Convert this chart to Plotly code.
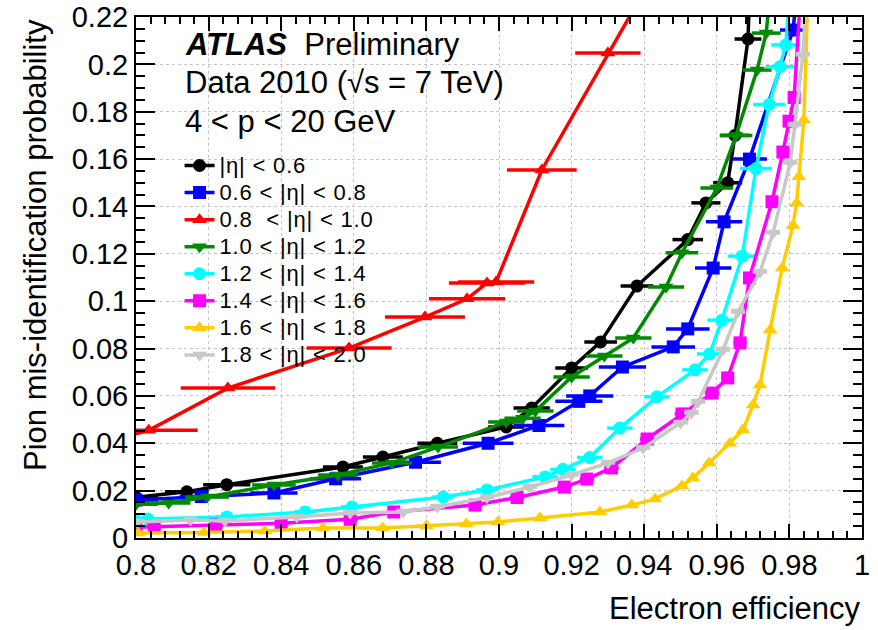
import plotly.graph_objects as go

# ---------------- data ----------------
labels = ["|η| < 0.6", "0.6 < |η| < 0.8", "0.8  < |η| < 1.0", "1.0 < |η| < 1.2",
          "1.2 < |η| < 1.4", "1.4 < |η| < 1.6", "1.6 < |η| < 1.8", "1.8 < |η| < 2.0"]
colors = ["#000000", "#0000ff", "#ff0000", "#008a00", "#00ffff", "#ff00ff", "#ffcc00", "#c8c8c8"]
symbols = ["circle", "square", "triangle-up", "triangle-down", "circle", "square", "triangle-up", "triangle-down"]

eff_eta00 = [0.800, 0.814, 0.825, 0.857, 0.868, 0.883, 0.902, 0.909, 0.920, 0.928, 0.938, 0.952, 0.957, 0.963, 0.965, 0.9686, 0.9705]
mis_eta00 = [0.0172, 0.0195, 0.0225, 0.0300, 0.0342, 0.0400, 0.0469, 0.0549, 0.0718, 0.0828, 0.1064, 0.1260, 0.1415, 0.1500, 0.1700, 0.2107, 0.300]
err_eta00 = [0.006, 0.006, 0.0065, 0.0055, 0.0055, 0.0055, 0.005, 0.005, 0.0045, 0.0045, 0.0045, 0.0042, 0.004, 0.004, 0.004, 0.0037, 0.0]

eff_eta06 = [0.800, 0.818, 0.838, 0.855, 0.877, 0.897, 0.911, 0.922, 0.925, 0.934, 0.948, 0.952, 0.959, 0.962, 0.969, 0.981, 0.984]
mis_eta06 = [0.0160, 0.0175, 0.0190, 0.0250, 0.0320, 0.0400, 0.0475, 0.0577, 0.0600, 0.0722, 0.0807, 0.0883, 0.1140, 0.1335, 0.1600, 0.2145, 0.260]
err_eta06 = [0.006, 0.006, 0.0065, 0.007, 0.007, 0.007, 0.007, 0.0065, 0.0065, 0.0065, 0.006, 0.006, 0.005, 0.005, 0.0048, 0.0036, 0.0]

eff_eta08 = [0.795, 0.8035, 0.8253, 0.8587, 0.8796, 0.8912, 0.8967, 0.8992, 0.9118, 0.9300, 0.9400]
mis_eta08 = [0.0420, 0.0455, 0.0633, 0.0802, 0.0933, 0.1010, 0.1077, 0.1081, 0.1554, 0.2048, 0.2310]
err_eta08 = [0.0, 0.0135, 0.013, 0.0117, 0.011, 0.0105, 0.0105, 0.0105, 0.0096, 0.009, 0.0]

eff_eta10 = [0.800, 0.809, 0.8196, 0.838, 0.8557, 0.8705, 0.8832, 0.902, 0.9065, 0.910, 0.920, 0.929, 0.937, 0.946, 0.9504, 0.960, 0.9653, 0.9711, 0.9736, 0.976]
mis_eta10 = [0.0142, 0.0148, 0.0173, 0.0224, 0.0266, 0.0317, 0.0384, 0.0490, 0.0506, 0.0536, 0.0680, 0.0769, 0.0845, 0.1060, 0.1204, 0.1478, 0.1700, 0.1976, 0.2132, 0.250]
err_eta10 = [0.006, 0.006, 0.006, 0.006, 0.0055, 0.0055, 0.0055, 0.005, 0.005, 0.005, 0.005, 0.005, 0.005, 0.005, 0.0045, 0.0045, 0.0045, 0.004, 0.004, 0.0]

eff_eta12 = [0.800, 0.8033, 0.825, 0.8466, 0.8595, 0.8846, 0.8967, 0.9127, 0.9176, 0.925, 0.9333, 0.9435, 0.954, 0.958, 0.9614, 0.967, 0.9708, 0.9744, 0.9774, 0.979, 0.981]
mis_eta12 = [0.0075, 0.0080, 0.0089, 0.0110, 0.0131, 0.0173, 0.0203, 0.0258, 0.0290, 0.0340, 0.0464, 0.0596, 0.0710, 0.0777, 0.0920, 0.1190, 0.1560, 0.1830, 0.1990, 0.2082, 0.250]
err_eta12 = [0.003, 0.003, 0.003, 0.003, 0.003, 0.003, 0.003, 0.0035, 0.0035, 0.0035, 0.0035, 0.0035, 0.0035, 0.0035, 0.004, 0.004, 0.0044, 0.0044, 0.004, 0.004, 0.0]

eff_eta14 = [0.800, 0.805, 0.822, 0.840, 0.859, 0.871, 0.8934, 0.905, 0.918, 0.9242, 0.931, 0.9408, 0.9504, 0.9587, 0.963, 0.9664, 0.969, 0.9752, 0.9782, 0.9799, 0.9813, 0.9835]
mis_eta14 = [0.0045, 0.0048, 0.0055, 0.0062, 0.0079, 0.0110, 0.0139, 0.0171, 0.0215, 0.0249, 0.0296, 0.0418, 0.0524, 0.0612, 0.0676, 0.0824, 0.1098, 0.1420, 0.1630, 0.1760, 0.1860, 0.240]
err_eta14 = [0.002, 0.002, 0.002, 0.002, 0.002, 0.002, 0.002, 0.002, 0.002, 0.002, 0.002, 0.002, 0.002, 0.002, 0.0018, 0.0018, 0.0018, 0.0016, 0.0016, 0.0016, 0.0016, 0.0]

eff_eta16 = [0.8006, 0.8187, 0.8355, 0.8515, 0.868, 0.880, 0.891, 0.8997, 0.9113, 0.9278, 0.9366, 0.943, 0.9504, 0.9534, 0.9579, 0.9636, 0.9672, 0.970, 0.9719, 0.9747, 0.978, 0.981, 0.982, 0.9826, 0.984, 0.9855]
mis_eta16 = [0.0021, 0.0023, 0.0030, 0.0042, 0.0042, 0.0051, 0.0059, 0.0068, 0.0084, 0.0110, 0.0139, 0.0165, 0.0220, 0.0253, 0.0317, 0.0400, 0.0456, 0.0562, 0.0646, 0.0878, 0.1140, 0.1320, 0.1415, 0.1525, 0.1765, 0.250]
err_eta16 = [0.001] * 25 + [0.0]

eff_eta18 = [0.8003, 0.815, 0.8245, 0.8443, 0.859, 0.8736, 0.883, 0.8967, 0.9085, 0.920, 0.930, 0.9397, 0.950, 0.953, 0.9548, 0.9617, 0.9658, 0.9719, 0.9755, 0.9802, 0.9815, 0.9837, 0.985]
mis_eta18 = [0.0068, 0.0076, 0.0072, 0.0089, 0.0106, 0.0110, 0.0131, 0.0171, 0.0215, 0.0266, 0.0317, 0.0380, 0.0486, 0.0528, 0.0574, 0.0794, 0.0954, 0.1123, 0.1288, 0.1584, 0.1744, 0.2040, 0.240]
err_eta18 = [0.002] * 22 + [0.0]

x_tick_vals = [0.8, 0.82, 0.84, 0.86, 0.88, 0.9, 0.92, 0.94, 0.96, 0.98, 1.0]
x_tick_text = ["0.8", "0.82", "0.84", "0.86", "0.88", "0.9", "0.92", "0.94", "0.96", "0.98", "1"]
y_tick_vals = [0, 0.02, 0.04, 0.06, 0.08, 0.1, 0.12, 0.14, 0.16, 0.18, 0.2, 0.22]
y_tick_text = ["0", "0.02", "0.04", "0.06", "0.08", "0.1", "0.12", "0.14", "0.16", "0.18", "0.2", "0.22"]

series = [
    (eff_eta00, mis_eta00, err_eta00),
    (eff_eta06, mis_eta06, err_eta06),
    (eff_eta08, mis_eta08, err_eta08),
    (eff_eta10, mis_eta10, err_eta10),
    (eff_eta12, mis_eta12, err_eta12),
    (eff_eta14, mis_eta14, err_eta14),
    (eff_eta16, mis_eta16, err_eta16),
    (eff_eta18, mis_eta18, err_eta18),
]

FONT = "Liberation Sans, Arial, Helvetica, sans-serif"

fig = go.Figure()
for (x, y, e), name, col, sym in zip(series, labels, colors, symbols):
    fig.add_trace(go.Scatter(
        x=x, y=y, mode="lines+markers",
        name='<span style="font-size:22px;letter-spacing:0.8px">' + name + '</span>',
        line=dict(color=col, width=3.5),
        marker=dict(color=col, symbol=sym, size=13, line=dict(width=0)),
        error_x=dict(type="data", array=e, symmetric=True, color=col, thickness=3.5, width=0),
    ))

axis_common = dict(
    showline=True, linecolor="black", linewidth=2, mirror="allticks",
    ticks="inside", tickcolor="black", tickwidth=1.5,
    showgrid=True, gridcolor="#c4c4c4", griddash="dot", gridwidth=1,
    zeroline=False, automargin=False,
    tickfont=dict(family=FONT, size=29, color="black"),
)

fig.update_xaxes(
    range=[0.8, 1.0], tickvals=x_tick_vals, ticktext=x_tick_text, ticklen=14,
    minor=dict(dtick=0.004, ticks="inside", ticklen=7, tickcolor="black", tickwidth=1.5, showgrid=False),
    **axis_common,
)
fig.update_yaxes(
    range=[0, 0.22], tickvals=y_tick_vals, ticktext=y_tick_text, ticklen=19,
    minor=dict(dtick=0.005, ticks="inside", ticklen=9, tickcolor="black", tickwidth=1.5, showgrid=False),
    **axis_common,
)

TOP, BOT = 17, 538
H = BOT - TOP


def py(pix):
    return (BOT - pix) / H


fig.update_layout(
    width=878, height=630,
    margin=dict(l=136, r=16, t=TOP, b=630 - BOT, autoexpand=False),
    paper_bgcolor="white", plot_bgcolor="white",
    font=dict(family=FONT, color="black"),
    showlegend=True,
    legend=dict(x=0.06, y=py(147), xanchor="left", yanchor="top",
                bgcolor="rgba(0,0,0,0)", borderwidth=0, tracegroupgap=0,
                font=dict(family=FONT, size=18.5, color="black")),
    annotations=[
        dict(text="<b><i>ATLAS</i></b>  Preliminary", xref="paper", yref="paper",
             x=0.0647, y=py(44), xanchor="left", yanchor="middle",
             showarrow=False, font=dict(family=FONT, size=31, color="black")),
        dict(text="Data 2010 (√s = 7 TeV)", xref="paper", yref="paper",
             x=0.0647, y=py(83), xanchor="left", yanchor="middle",
             showarrow=False, font=dict(family=FONT, size=31, color="black")),
        dict(text="4 < p < 20 GeV", xref="paper", yref="paper",
             x=0.0647, y=py(121), xanchor="left", yanchor="middle",
             showarrow=False, font=dict(family=FONT, size=31, color="black")),
        dict(text="Electron efficiency", xref="paper", yref="paper",
             x=1.0, y=py(608), xanchor="right", yanchor="middle",
             showarrow=False, font=dict(family=FONT, size=31, color="black")),
        dict(text="Pion mis-identification probability", xref="paper", yref="paper",
             x=(35 - 136) / 726, y=1.0, xanchor="center", yanchor="top", textangle=-90,
             showarrow=False, font=dict(family=FONT, size=31, color="black")),
    ],
)

fig.write_html("out.html")
